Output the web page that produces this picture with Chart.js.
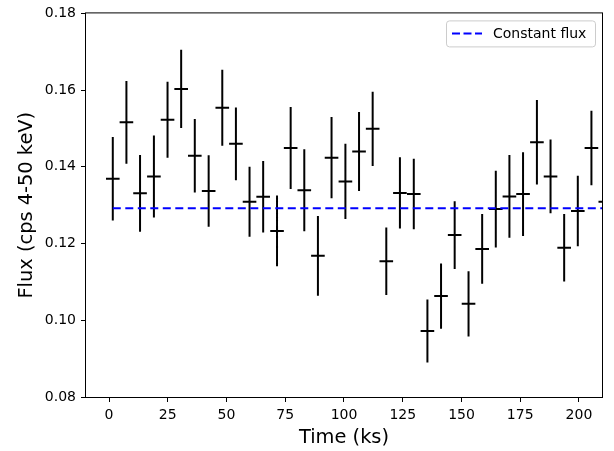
<!DOCTYPE html>
<html lang="en">
<head>
  <meta charset="UTF-8" />
  <title>Light curve</title>
  <script src="https://cdn.jsdelivr.net/npm/chart.js"></script>
  <style>
    body { margin: 0; background: #fff; }
  </style>
</head>
<body>
  <canvas id="lcChart" width="614" height="451"></canvas>

  <script>
    // bin centres (ks)
    const time = [1.6, 7.4, 13.2, 19.1, 24.9, 30.7, 36.5, 42.4, 48.2, 54.0,
                  59.8, 65.6, 71.5, 77.3, 83.1, 88.9, 94.7, 100.6, 106.4, 112.2,
                  118.0, 123.8, 129.7, 135.5, 141.3, 147.1, 153.0, 158.8, 164.6, 170.4,
                  176.2, 182.1, 187.9, 193.7, 199.5, 205.3, 211.2];
    const binHalfWidth = 2.9;

    // count rate and 1-sigma error (cps, 4-50 keV)
    const flux = [0.1369, 0.1516, 0.1331, 0.1375, 0.1523, 0.1603, 0.1429, 0.1337, 0.1554, 0.1460,
                  0.1309, 0.1322, 0.1233, 0.1449, 0.1339, 0.1168, 0.1424, 0.1362, 0.1440, 0.1499,
                  0.1154, 0.1332, 0.1329, 0.0972, 0.1063, 0.1222, 0.1043, 0.1186, 0.1290, 0.1323,
                  0.1329, 0.1464, 0.1375, 0.1189, 0.1285, 0.1449, 0.1309];
    const fluxErr = [0.0109, 0.0108, 0.0100, 0.0107, 0.0099, 0.0102, 0.0096, 0.0093, 0.0099, 0.0095,
                     0.0091, 0.0093, 0.0092, 0.0107, 0.0107, 0.0104, 0.0106, 0.0098, 0.0103, 0.0097,
                     0.0088, 0.0093, 0.0092, 0.0082, 0.0085, 0.0088, 0.0085, 0.0091, 0.0100, 0.0108,
                     0.0109, 0.0110, 0.0096, 0.0088, 0.0092, 0.0097, 0.0100];

    const constantFlux = 0.1292;

    const xTicks = [0, 25, 50, 75, 100, 125, 150, 175, 200];
    const yTicks = [0.08, 0.10, 0.12, 0.14, 0.16, 0.18];

    // error bars as broken line segments (null point = gap)
    const hBars = [];
    const vBars = [];
    time.forEach((t, i) => {
      hBars.push({x: t - binHalfWidth, y: flux[i]}, {x: t + binHalfWidth, y: flux[i]}, {x: t, y: null});
      vBars.push({x: t, y: flux[i] - fluxErr[i]}, {x: t, y: flux[i] + fluxErr[i]}, {x: t, y: null});
    });

    const FONT = '"DejaVu Sans", sans-serif';

    // full box around the axes + legend in the upper right
    const frameAndLegend = {
      id: 'frameAndLegend',
      afterDraw(chart) {
        const {ctx, chartArea: a} = chart;
        ctx.save();
        ctx.strokeStyle = '#000';
        ctx.lineWidth = 1;
        ctx.strokeRect(a.left - 0.5, a.top - 0.5, a.right - a.left + 1, a.bottom - a.top + 1);

        // legend
        const bx = a.right - 156, by = a.top + 7, bw = 149, bh = 26;
        ctx.fillStyle = 'rgba(255,255,255,0.8)';
        ctx.strokeStyle = '#cccccc';
        ctx.beginPath();
        ctx.roundRect(bx + 0.5, by + 0.5, bw, bh, 3);
        ctx.fill();
        ctx.stroke();

        const ly = by + 13;
        ctx.strokeStyle = '#0000ff';
        ctx.lineWidth = 2;
        ctx.setLineDash([8, 3.5]);
        ctx.beginPath();
        ctx.moveTo(bx + 6, ly);
        ctx.lineTo(bx + 36, ly);
        ctx.stroke();
        ctx.setLineDash([]);

        ctx.fillStyle = '#000';
        ctx.font = '14px ' + FONT;
        ctx.textBaseline = 'middle';
        ctx.textAlign = 'left';
        ctx.fillText('Constant flux', bx + 47, ly + 0.5);
        ctx.restore();
      }
    };

    new Chart(document.getElementById('lcChart'), {
      type: 'scatter',
      data: {
        datasets: [
          {
            label: 'Constant flux',
            data: [{x: time[0], y: constantFlux}, {x: time[time.length - 1], y: constantFlux}],
            showLine: true,
            borderColor: '#0000ff',
            borderWidth: 2,
            borderDash: [8, 4.5],
            pointRadius: 0,
            order: 0
          },
          {
            label: 'xerr',
            data: hBars,
            showLine: true,
            spanGaps: false,
            borderColor: '#000',
            borderWidth: 2,
            pointRadius: 0,
            order: 1
          },
          {
            label: 'yerr',
            data: vBars,
            showLine: true,
            spanGaps: false,
            borderColor: '#000',
            borderWidth: 2,
            pointRadius: 0,
            order: 1
          }
        ]
      },
      options: {
        responsive: false,
        animation: false,
        layout: { padding: { top: 13, right: 12, left: 0, bottom: 0 } },
        plugins: {
          legend: { display: false },
          tooltip: { enabled: false }
        },
        scales: {
          x: {
            type: 'linear',
            min: -9.8,
            max: 209.8,
            afterBuildTicks: s => { s.ticks = xTicks.map(v => ({value: v})); },
            afterFit: s => { s.height = 54; },
            border: { display: false },
            grid: { drawOnChartArea: false, drawTicks: true, tickLength: 5, color: '#000' },
            ticks: {
              color: '#000',
              padding: 5,
              maxRotation: 0,
              font: { family: FONT, size: 14 },
              callback: v => String(v)
            },
            title: {
              display: true,
              text: 'Time (ks)',
              color: '#000',
              font: { family: FONT, size: 19.4 },
              padding: { top: 0, bottom: 1 }
            }
          },
          y: {
            min: 0.08,
            max: 0.18,
            afterBuildTicks: s => { s.ticks = yTicks.map(v => ({value: v})); },
            afterFit: s => { s.width = 86; },
            border: { display: false },
            grid: { drawOnChartArea: false, drawTicks: true, tickLength: 5, color: '#000' },
            ticks: {
              color: '#000',
              padding: 5,
              font: { family: FONT, size: 14 },
              callback: v => v.toFixed(2)
            },
            title: {
              display: true,
              text: 'Flux (cps 4-50 keV)',
              color: '#000',
              font: { family: FONT, size: 19.4 },
              padding: { top: 15, bottom: 0 }
            }
          }
        }
      },
      plugins: [frameAndLegend]
    });
  </script>
</body>
</html>
